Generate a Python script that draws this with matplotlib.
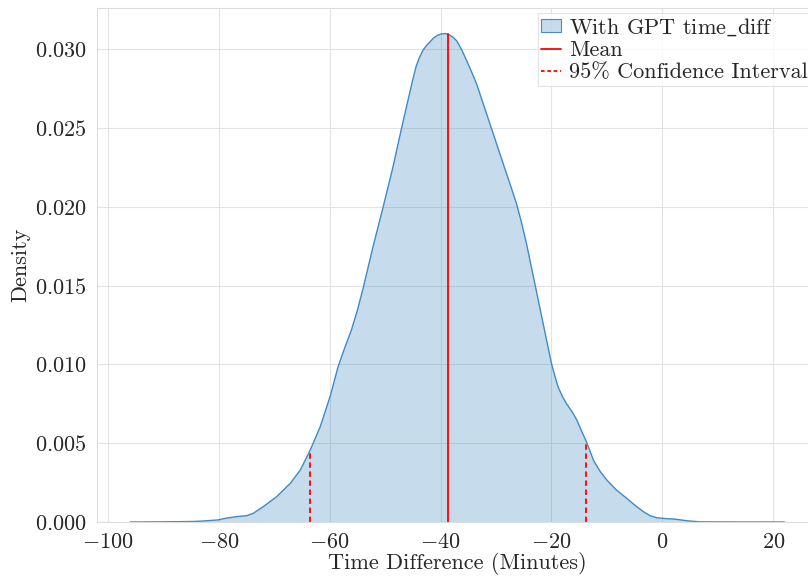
import numpy as np
import matplotlib
matplotlib.use("Agg")
import matplotlib.pyplot as plt
import seaborn as sns
from matplotlib.patches import Patch
from matplotlib.lines import Line2D

# KDE curve (x in minutes, density)
kde_x = [-96.0, -90.0, -85.0, -83.4, -80.2, -78.6, -76.8, -75.0, -73.8, -72.0, -69.6, -67.1,
         -65.3, -63.5, -61.7, -59.9, -58.5, -57.3, -56.1, -55.0, -54.0, -52.2, -50.4, -48.6,
         -47.1, -45.9, -45.0, -44.4, -43.8, -43.2, -42.6, -42.0, -41.3, -40.5, -39.8, -39.2,
         -38.6, -37.8, -37.1, -36.2, -35.3, -34.4, -33.5, -31.1, -28.7, -27.5, -26.3, -25.4,
         -24.5, -23.0, -21.5, -20.0, -19.4, -18.8, -18.0, -17.3, -16.1, -15.4, -14.6, -13.7,
         -12.4, -11.2, -10.0, -8.2, -6.4, -4.9, -3.4, -2.2, -1.0, 0.5, 2.0, 3.2, 4.4, 6.8,
         10.0, 15.0, 22.0]
kde_y = [0.0, 0.00001, 0.00003, 0.00005, 0.00013, 0.00025, 0.00034, 0.0004, 0.00055, 0.00097,
         0.0016, 0.00246, 0.0033, 0.00458, 0.00606, 0.0080, 0.00985, 0.01105, 0.01217, 0.01345,
         0.0148, 0.01745, 0.01994, 0.02252, 0.02490, 0.02674, 0.02810, 0.02893, 0.02949,
         0.02992, 0.03022, 0.03044, 0.03071, 0.03090, 0.03098, 0.03100, 0.03095, 0.03078,
         0.03054, 0.02998, 0.02928, 0.02856, 0.0278, 0.02527, 0.02273, 0.02148, 0.0202, 0.0190,
         0.01766, 0.01513, 0.01259, 0.01006, 0.00928, 0.00857, 0.00795, 0.00752, 0.0069,
         0.00645, 0.0058, 0.0051, 0.0039, 0.0032, 0.00266, 0.0020, 0.0015, 0.00105, 0.00065,
         0.00040, 0.00027, 0.00022, 0.00019, 0.00014, 0.00008, 0.00001, 0.000005, 0.000003, 0.0]

mean_val = -38.7
ci_low, ci_high = -63.5, -13.7

series_label = r"With GPT time$\_$diff"
mean_label = "Mean"
ci_label = "95% Confidence Interval"
x_label = "Time Difference (Minutes)"
y_label = "Density"
x_ticks = [-100, -80, -60, -40, -20, 0, 20]
y_ticks = [0.000, 0.005, 0.010, 0.015, 0.020, 0.025, 0.030]

sns.set_style("whitegrid", {"grid.color": "#e3e3e3", "axes.edgecolor": "#dddddd"})
plt.rcParams['font.family'] = ['cmr10', 'DejaVu Serif']
plt.rcParams['mathtext.fontset'] = 'cm'
plt.rcParams['mathtext.rm'] = 'cmr10'
plt.rcParams['axes.formatter.use_mathtext'] = True
plt.rcParams['axes.unicode_minus'] = True

fig = plt.figure(figsize=(8.08, 5.77), dpi=100)
ax = fig.add_axes([97/808, 1 - 522/577, 720/808, 514/577])

color = '#1f77b4'
ax.fill_between(kde_x, kde_y, 0, facecolor=color, alpha=0.25, edgecolor='none')
ax.plot(kde_x, kde_y, color='#3f8bc4', lw=1.0, solid_joinstyle='round')

ym = np.interp(mean_val, kde_x, kde_y)
ax.plot([mean_val, mean_val], [0, ym], color='red', lw=1.3)
for v in [ci_low, ci_high]:
    yv = np.interp(v, kde_x, kde_y)
    ax.plot([v, v], [0, yv], color='red', lw=1.3, ls='--', dashes=(3, 2))

ax.set_xlim(-101.98, 27.9)
ax.set_ylim(0, 0.03262)
ax.set_xticks(x_ticks)
ax.set_yticks(y_ticks)
ax.tick_params(labelsize=16, pad=4)
ax.set_xlabel(x_label, fontsize=16, labelpad=0)
ax.set_ylabel(y_label, fontsize=16, labelpad=3)

handles = [Patch(facecolor=(31/255, 119/255, 180/255, 0.25),
                 edgecolor=(31/255, 119/255, 180/255, 0.8), lw=0.8),
           Line2D([], [], color='red', lw=1.3),
           Line2D([], [], color='red', lw=1.3, ls='--', dashes=(2, 1.5))]
leg = ax.legend(handles, [series_label, mean_label, ci_label], loc='upper left',
                bbox_to_anchor=(538/808, 1 - 13/577), bbox_transform=fig.transFigure,
                fontsize=16, handlelength=0.9, handleheight=0.5, handletextpad=0.35,
                labelspacing=0.12, borderpad=0.15, borderaxespad=0, frameon=True,
                fancybox=False, framealpha=0.8)
leg.get_frame().set_edgecolor('#dddddd')
leg.get_frame().set_linewidth(0.8)

fig.savefig('out.png', dpi=100)
